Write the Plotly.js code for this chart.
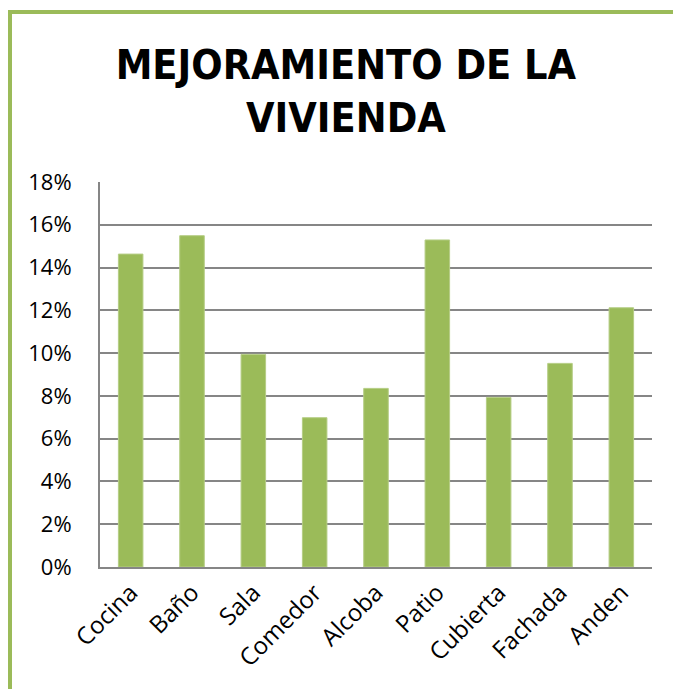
<!DOCTYPE html>
<html>
<head>
<meta charset="utf-8">
<script src="https://cdn.plot.ly/plotly-3.0.1.min.js"></script>
<style>
  html, body { margin: 0; padding: 0; background: #ffffff; }
  #wrap { position: relative; width: 673px; height: 689px; overflow: hidden; }
  #chart { position: absolute; left: 0; top: 0; width: 673px; height: 689px; }
  #frame { position: absolute; left: 8px; top: 10px; width: 700px; height: 700px;
           border-left: 4px solid #9BBB59; border-top: 4px solid #9BBB59;
           pointer-events: none; box-sizing: border-box; }
</style>
</head>
<body>
<div id="wrap">
  <div id="chart"></div>
  <div id="frame"></div>
</div>
<script>
const titleText = "MEJORAMIENTO DE LA<br>VIVIENDA";
const categories = ["Cocina", "Baño", "Sala", "Comedor", "Alcoba", "Patio", "Cubierta", "Fachada", "Anden"];
const values = [0.1463, 0.1549, 0.0994, 0.0698, 0.0835, 0.1529, 0.0793, 0.0952, 0.1212];
const yTickValues = [0, 0.02, 0.04, 0.06, 0.08, 0.10, 0.12, 0.14, 0.16, 0.18];
const yTickLabels = ["0%", "2%", "4%", "6%", "8%", "10%", "12%", "14%", "16%", "18%"];

const trace = {
  type: "bar",
  x: categories,
  y: values,
  marker: { color: "#9BBB59", line: { color: "#B5CD85", width: 1 } },
  hoverinfo: "x+y"
};

const layout = {
  width: 673,
  height: 689,
  margin: { l: 100, r: 21, t: 182, b: 122, pad: 0 },
  paper_bgcolor: "#ffffff",
  plot_bgcolor: "#ffffff",
  showlegend: false,
  bargap: 0.6,
  title: {
    text: titleText,
    font: { family: "DejaVu Sans Condensed, Liberation Sans, sans-serif", size: 41, color: "#000000", weight: 700 },
    xref: "container",
    x: 0.514,
    xanchor: "center",
    yref: "container",
    y: 0.886,
    yanchor: "middle"
  },
  xaxis: {
    type: "category",
    tickangle: -45,
    tickfont: { family: "Open Sans, Liberation Sans, sans-serif", size: 24, color: "#000000" },
    showline: true,
    linecolor: "#868686",
    linewidth: 2,
    showgrid: false,
    ticks: "",
    zeroline: false
  },
  yaxis: {
    range: [0, 0.18],
    tickvals: yTickValues,
    ticktext: yTickLabels,
    tickfont: { family: "Open Sans, Liberation Sans, sans-serif", size: 22, color: "#000000" },
    showline: true,
    linecolor: "#868686",
    linewidth: 2,
    showgrid: true,
    gridcolor: "#868686",
    gridwidth: 2,
    ticks: "",
    ticklabelstandoff: 22,
    zeroline: false
  }
};

Plotly.newPlot("chart", [trace], layout, { displayModeBar: false, staticPlot: true });
</script>
</body>
</html>
